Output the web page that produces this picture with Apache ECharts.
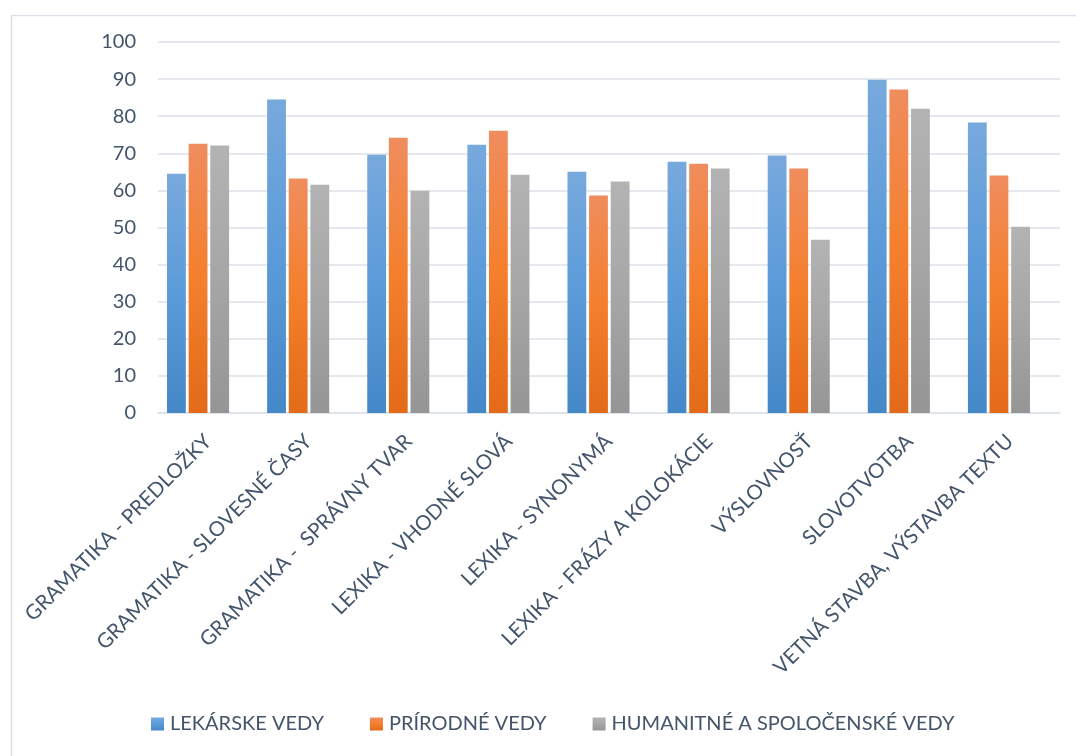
<!DOCTYPE html>
<html>
<head>
<meta charset="utf-8">
<script src="https://cdn.jsdelivr.net/npm/echarts@6/dist/echarts.min.js"></script>
<style>
html,body{margin:0;padding:0;background:#fff;}
#chart{width:1076px;height:756px;}
</style>
</head>
<body>
<div id="chart"></div>
<script>
const categories = [
  'GRAMATIKA - PREDLOŽKY',
  'GRAMATIKA - SLOVESNÉ ČASY',
  'GRAMATIKA -  SPRÁVNY TVAR',
  'LEXIKA - VHODNÉ SLOVÁ',
  'LEXIKA - SYNONYMÁ',
  'LEXIKA - FRÁZY A KOLOKÁCIE',
  'VÝSLOVNOSŤ',
  'SLOVOTVOTBA',
  'VETNÁ STAVBA, VÝSTAVBA TEXTU'
];
const seriesNames = ['LEKÁRSKE VEDY', 'PRÍRODNÉ VEDY', 'HUMANITNÉ A SPOLOČENSKÉ VEDY'];
const lekarske = [64.5, 84.5, 69.6, 72.3, 65.0, 67.7, 69.4, 89.8, 78.3];
const prirodne = [72.6, 63.2, 74.2, 76.1, 58.6, 67.2, 65.9, 87.2, 64.0];
const humanitne = [72.1, 61.5, 59.9, 64.2, 62.4, 65.9, 46.7, 82.0, 50.2];
const yTicks = {min: 0, max: 100, interval: 10};

const textColor = '#44546a';
const fontFam = 'Lato, "Open Sans", sans-serif';

function grad(top, mid, bottom) {
  return new echarts.graphic.LinearGradient(0, 0, 0, 1, [
    {offset: 0, color: top},
    {offset: 0.5, color: mid},
    {offset: 1, color: bottom}
  ]);
}
const fills = [
  grad('#78a9dd', '#5b9bd9', '#4588c7'),
  grad('#f08d5e', '#f47f2c', '#e36a18'),
  grad('#b3b3b3', '#a6a6a6', '#959595')
];
const dataSets = [lekarske, prirodne, humanitne];

const chart = echarts.init(document.getElementById('chart'), null, {renderer: 'canvas'});
chart.setOption({
  animation: false,
  backgroundColor: '#fff',
  textStyle: {fontFamily: fontFam},
  graphic: [{
    type: 'rect',
    left: 9, top: 13,
    shape: {width: 1200, height: 900},
    style: {fill: 'none', stroke: '#dde1e7', lineWidth: 1.5},
    silent: true
  }],
  grid: [
    {left: 158, right: 16, top: 42, bottom: 343},
    {left: 148, right: 27, top: 42, bottom: 343}
  ],
  legend: {
    bottom: 17,
    left: 146,
    icon: 'rect',
    itemWidth: 13,
    itemHeight: 13,
    itemGap: 46,
    textStyle: {color: textColor, fontSize: 20, fontFamily: fontFam, padding: [0, 0, 0, 1]},
    data: seriesNames.map((n, i) => ({name: n, itemStyle: {color: fills[i]}}))
  },
  xAxis: [{
    type: 'category',
    gridIndex: 0,
    data: categories,
    axisLine: {show: true, lineStyle: {color: '#dde2ea', width: 1.5}},
    axisTick: {show: false},
    axisLabel: {
      rotate: 45,
      interval: 0,
      margin: 25,
      color: textColor,
      fontSize: 20.5,
      fontFamily: fontFam
    }
  }, {
    type: 'category',
    gridIndex: 1,
    data: categories,
    axisLine: {show: false},
    axisTick: {show: false},
    axisLabel: {show: false}
  }],
  yAxis: [{
    type: 'value',
    gridIndex: 0,
    min: yTicks.min,
    max: yTicks.max,
    interval: yTicks.interval,
    axisLine: {show: false},
    axisTick: {show: false},
    splitLine: {lineStyle: {color: '#dde2ea', width: 1.5}},
    axisLabel: {color: textColor, fontSize: 20, margin: 22, fontFamily: fontFam}
  }, {
    type: 'value',
    gridIndex: 1,
    min: yTicks.min,
    max: yTicks.max,
    interval: yTicks.interval,
    axisLine: {show: false},
    axisTick: {show: false},
    splitLine: {show: false},
    axisLabel: {show: false}
  }],
  series: dataSets.map((d, i) => ({
    name: seriesNames[i],
    type: 'bar',
    xAxisIndex: 1,
    yAxisIndex: 1,
    data: d,
    barGap: '15%',
    barCategoryGap: '38%',
    itemStyle: {color: fills[i]}
  }))
});
</script>
</body>
</html>
